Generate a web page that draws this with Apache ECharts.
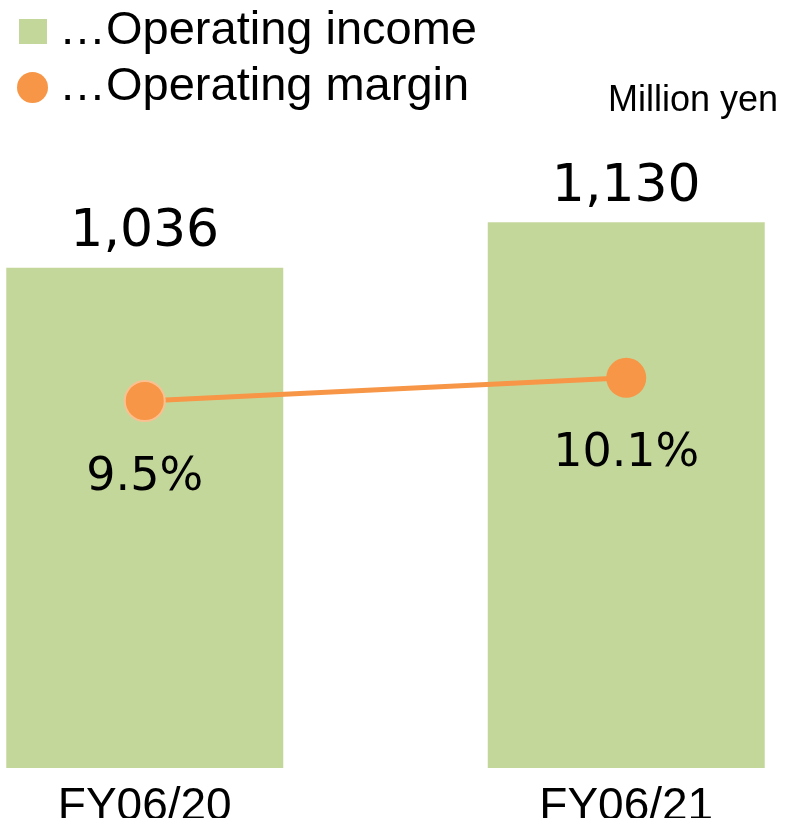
<!DOCTYPE html>
<html lang="en">
<head>
    <meta charset="UTF-8">
    <title>Operating income / margin</title>
    <script src="https://cdn.jsdelivr.net/npm/echarts@6/dist/echarts.min.js"></script>
    <style type="text/css">
        html, body { margin: 0; padding: 0; background: #fff; }
    </style>
</head>
<body>
<div id="main" style="width:787px;height:818px;"></div>
<script type="text/javascript">
    // data
    var years = ['FY06/20', 'FY06/21'];
    var income = [1036, 1130];      // million yen
    var margin = [9.5, 10.1];       // %

    var myChart = echarts.init(document.getElementById('main'));

    var option = {
        animation: false,
        title: {
            text: 'Million yen',
            right: 4,
            top: 78,
            textStyle: {
                fontFamily: 'Liberation Sans',
                fontSize: 36,
                fontWeight: 'normal',
                color: '#000'
            }
        },
        legend: [
            {
                data: ['Operating income'],
                icon: 'rect',
                left: 14,
                top: 3,
                itemWidth: 28,
                itemHeight: 25,
                formatter: function (name) { return '\u2026' + name; },
                textStyle: {
                    fontFamily: 'Liberation Sans',
                    fontSize: 47,
                    color: '#000',
                    padding: [0, 0, 0, 7]
                }
            },
            {
                data: ['Operating margin'],
                icon: 'circle',
                left: 12,
                top: 59,
                itemWidth: 31,
                itemHeight: 31,
                formatter: function (name) { return '\u2026' + name; },
                textStyle: {
                    fontFamily: 'Liberation Sans',
                    fontSize: 47,
                    color: '#000',
                    padding: [0, 0, 0, 6]
                }
            }
        ],
        // grid is wider than the canvas so the two categories sit where the picture has them
        grid: {
            left: -96,
            right: -80,
            top: 92,
            bottom: 50,
            outerBoundsMode: 'none',
            containLabel: false
        },
        xAxis: {
            type: 'category',
            data: years,
            axisLine: { show: false },
            axisTick: { show: false },
            axisLabel: {
                margin: 16,
                fontFamily: 'Liberation Sans',
                fontSize: 46,
                color: '#000'
            }
        },
        yAxis: [
            { type: 'value', min: 0, max: 1400, show: false, splitLine: { show: false } },
            { type: 'value', min: 0, max: 17.5, show: false, splitLine: { show: false } }
        ],
        series: [
            {
                name: 'Operating income',
                type: 'bar',
                data: income,
                barWidth: 277,
                itemStyle: { color: '#c4d79b' },
                label: {
                    show: true,
                    position: 'top',
                    distance: 9,
                    fontFamily: 'DejaVu Sans',
                    fontSize: 52,
                    color: '#000',
                    formatter: function (p) { return p.value.toLocaleString('en-US'); }
                }
            },
            {
                name: 'Operating margin',
                type: 'line',
                yAxisIndex: 1,
                data: margin.map(function (v, i) {
                    return i === 0
                        ? { value: v, itemStyle: { borderColor: '#fac090', borderWidth: 2 } }
                        : v;
                }),
                symbol: 'circle',
                symbolSize: 40,
                lineStyle: { color: '#f79646', width: 5 },
                itemStyle: { color: '#f79646', borderWidth: 0 },
                label: {
                    show: true,
                    position: 'bottom',
                    distance: 33,
                    fontFamily: 'DejaVu Sans',
                    fontSize: 46,
                    color: '#000',
                    formatter: function (p) { return p.value.toFixed(1) + '%'; }
                }
            }
        ]
    };

    myChart.setOption(option);
</script>
</body>
</html>
